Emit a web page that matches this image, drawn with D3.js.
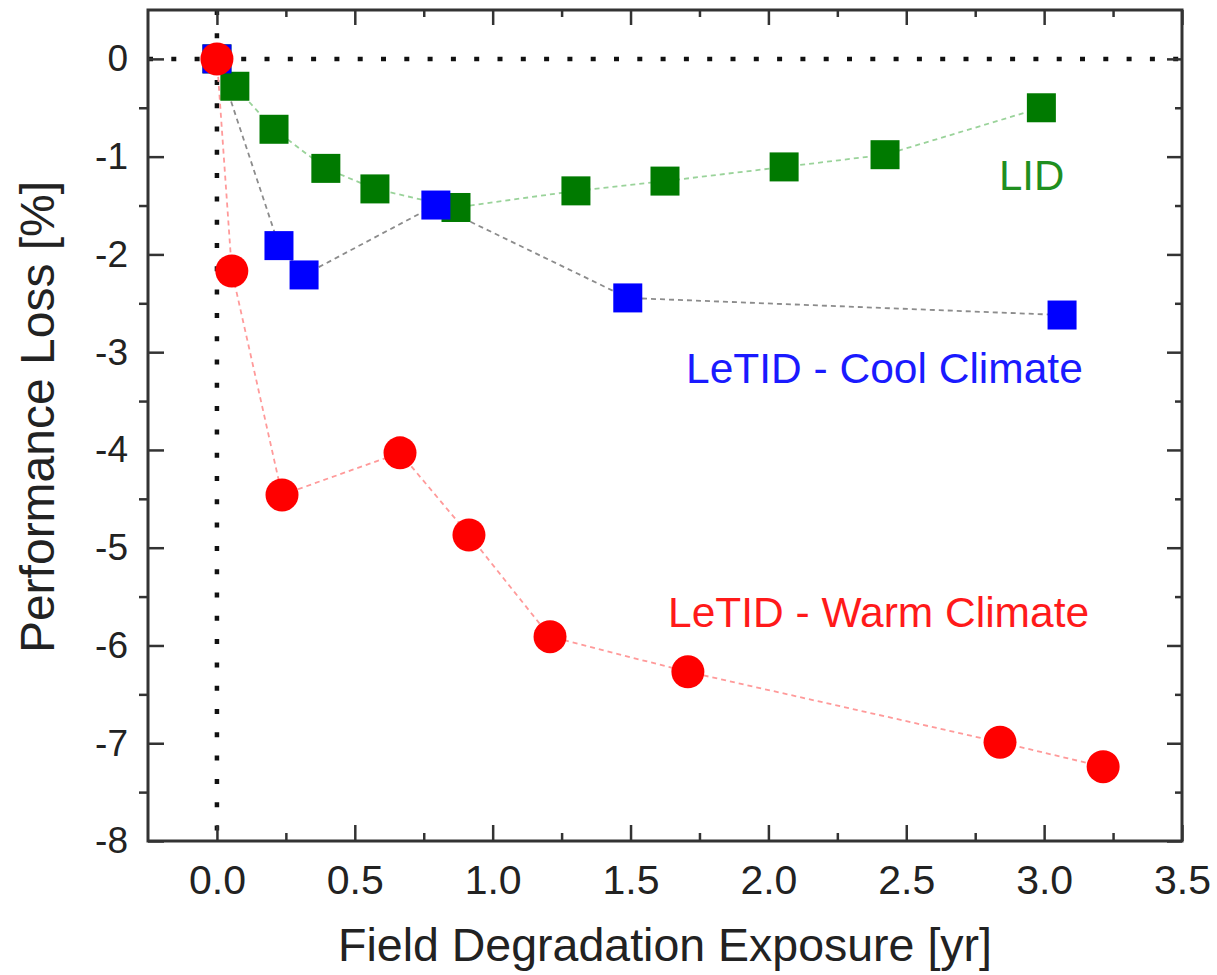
<!DOCTYPE html>
<html lang="en">
<head>
  <meta charset="UTF-8" />
  <title>Performance Loss vs Field Degradation Exposure</title>
  <script src="https://d3js.org/d3.v7.min.js"></script>
  <style>
    body { margin: 0; background: #fff; }
    text { font-family: "Liberation Sans", Arial, sans-serif; }
    .tick line { stroke: #333; stroke-width: 2.5; }
  </style>
</head>
<body>
  <div id="chart"></div>

  <script>
    // Data
    const lidX = [0, 0.065, 0.207, 0.395, 0.573, 0.867, 1.302, 1.625, 2.057, 2.423, 2.99];
    const lidY = [0, -0.28, -0.72, -1.12, -1.33, -1.52, -1.35, -1.25, -1.105, -0.98, -0.50];

    const coolX = [0, 0.225, 0.316, 0.794, 1.49, 3.065];
    const coolY = [0, -1.91, -2.21, -1.495, -2.445, -2.62];

    const warmX = [0, 0.054, 0.236, 0.664, 0.914, 1.208, 1.708, 2.84, 3.214];
    const warmY = [0, -2.17, -4.46, -4.03, -4.87, -5.91, -6.27, -6.99, -7.24];

    const xMajor = [0, 0.5, 1, 1.5, 2, 2.5, 3, 3.5];
    const xMinor = [0.25, 0.75, 1.25, 1.75, 2.25, 2.75, 3.25];
    const yMajor = [0, -1, -2, -3, -4, -5, -6, -7, -8];
    const yMinor = [-0.5, -1.5, -2.5, -3.5, -4.5, -5.5, -6.5, -7.5];

    const width = 1217, height = 975;
    const margin = { top: 10, right: 35, bottom: 134, left: 148 };
    const w = width - margin.left - margin.right;
    const h = height - margin.top - margin.bottom;

    const svg = d3.select("#chart").append("svg")
      .attr("width", width)
      .attr("height", height);

    const g = svg.append("g")
      .attr("transform", `translate(${margin.left},${margin.top})`);

    const x = d3.scaleLinear().domain([-0.25, 3.5]).range([0, w]);
    const y = d3.scaleLinear().domain([-8, 0.5]).range([h, 0]);

    // zero reference lines (dotted)
    g.append("line")
      .attr("x1", 0).attr("x2", w)
      .attr("y1", y(0)).attr("y2", y(0))
      .attr("stroke", "#111").attr("stroke-width", 4.5)
      .attr("stroke-dasharray", "5 18.3");
    g.append("line")
      .attr("x1", x(0)).attr("x2", x(0))
      .attr("y1", 0).attr("y2", h)
      .attr("stroke", "#111").attr("stroke-width", 4.5)
      .attr("stroke-dasharray", "5 18.3");

    // axes: major ticks inward, left minor ticks outward
    const fmtX = d3.format(".1f");
    const fmtY = d => String(d);   // plain hyphen minus, as in the figure
    g.append("g")
      .attr("transform", `translate(0,${h})`)
      .call(d3.axisBottom(x).tickValues(xMajor).tickSize(-16).tickPadding(24).tickFormat(fmtX))
      .call(a => a.select(".domain").remove())
      .call(a => a.selectAll("text").attr("font-size", 41).attr("fill", "#222"));
    g.append("g")
      .attr("transform", `translate(0,${h})`)
      .call(d3.axisBottom(x).tickValues(xMinor).tickSize(-8).tickFormat(""))
      .call(a => a.select(".domain").remove());
    g.append("g")
      .call(d3.axisTop(x).tickValues(xMajor).tickSize(-15).tickFormat(""))
      .call(a => a.select(".domain").remove());
    g.append("g")
      .call(d3.axisTop(x).tickValues(xMinor).tickSize(-7).tickFormat(""))
      .call(a => a.select(".domain").remove());

    g.append("g")
      .call(d3.axisLeft(y).tickValues(yMajor).tickSize(-16).tickPadding(20).tickFormat(fmtY))
      .call(a => a.select(".domain").remove())
      .call(a => a.selectAll("text").attr("font-size", 37).attr("fill", "#222"));
    g.append("g")
      .call(d3.axisLeft(y).tickValues(yMinor).tickSize(9).tickFormat(""))
      .call(a => a.select(".domain").remove());
    g.append("g")
      .attr("transform", `translate(${w},0)`)
      .call(d3.axisRight(y).tickValues(yMajor).tickSize(-15).tickFormat(""))
      .call(a => a.select(".domain").remove());
    g.append("g")
      .attr("transform", `translate(${w},0)`)
      .call(d3.axisRight(y).tickValues(yMinor).tickSize(-7).tickFormat(""))
      .call(a => a.select(".domain").remove());

    // frame
    g.append("rect")
      .attr("width", w).attr("height", h)
      .attr("fill", "none").attr("stroke", "#333").attr("stroke-width", 3);

    const line = d3.line().x(d => x(d[0])).y(d => y(d[1]));
    const zip = (xs, ys) => xs.map((v, i) => [v, ys[i]]);

    const lid = zip(lidX, lidY);
    const cool = zip(coolX, coolY);
    const warm = zip(warmX, warmY);

    // connecting dashed lines
    g.append("path").datum(lid).attr("d", line)
      .attr("fill", "none").attr("stroke", "#9ad39a").attr("stroke-width", 1.8)
      .attr("stroke-dasharray", "5 4");
    g.append("path").datum(cool).attr("d", line)
      .attr("fill", "none").attr("stroke", "#8c8c8c").attr("stroke-width", 1.8)
      .attr("stroke-dasharray", "5 4");
    g.append("path").datum(warm).attr("d", line)
      .attr("fill", "none").attr("stroke", "#ff9a9a").attr("stroke-width", 1.8)
      .attr("stroke-dasharray", "5 4");

    const sq = 29;
    g.selectAll(".lid").data(lid).enter().append("rect")
      .attr("x", d => x(d[0]) - sq / 2).attr("y", d => y(d[1]) - sq / 2)
      .attr("width", sq).attr("height", sq).attr("fill", "#007a00");
    g.selectAll(".cool").data(cool).enter().append("rect")
      .attr("x", d => x(d[0]) - sq / 2).attr("y", d => y(d[1]) - sq / 2)
      .attr("width", sq).attr("height", sq).attr("fill", "#0000ff");
    g.selectAll(".warm").data(warm).enter().append("circle")
      .attr("cx", d => x(d[0])).attr("cy", d => y(d[1]))
      .attr("r", 16.5).attr("fill", "#ff0000");

    // series labels
    svg.append("text").attr("x", 999).attr("y", 190)
      .attr("font-size", 42).attr("fill", "#1f8f1f").text("LID");
    svg.append("text").attr("x", 686).attr("y", 383)
      .attr("font-size", 42.5).attr("fill", "#1a1aff").text("LeTID - Cool Climate");
    svg.append("text").attr("x", 668).attr("y", 627)
      .attr("font-size", 42.5).attr("fill", "#ff1a1a").text("LeTID - Warm Climate");

    // axis titles
    svg.append("text")
      .attr("x", margin.left + w / 2).attr("y", 961)
      .attr("text-anchor", "middle").attr("font-size", 46.5).attr("fill", "#222")
      .text("Field Degradation Exposure [yr]");
    svg.append("text")
      .attr("transform", `translate(54,417) rotate(-90)`)
      .attr("text-anchor", "middle").attr("font-size", 48).attr("fill", "#222")
      .text("Performance Loss [%]");
  </script>
</body>
</html>
